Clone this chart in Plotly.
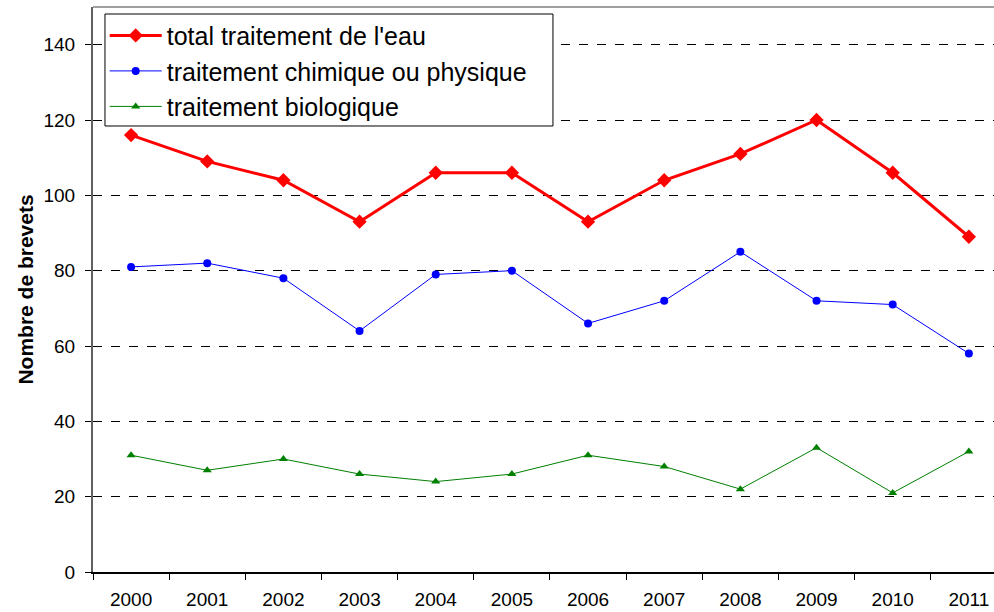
import plotly.graph_objects as go

years = ["2000", "2001", "2002", "2003", "2004", "2005",
         "2006", "2007", "2008", "2009", "2010", "2011"]
total = [116, 109, 104, 93, 106, 106, 93, 104, 111, 120, 106, 89]
chimique = [81, 82, 78, 64, 79, 80, 66, 72, 85, 72, 71, 58]
biologique = [31, 27, 30, 26, 24, 26, 31, 28, 22, 33, 21, 32]

FONT = "Liberation Sans, Arial, sans-serif"

fig = go.Figure()
fig.add_trace(go.Scatter(
    x=years, y=total, name="total traitement de l'eau", mode="lines+markers",
    line=dict(color="#ff0000", width=3),
    marker=dict(symbol="diamond", size=11, color="#ff0000")))
fig.add_trace(go.Scatter(
    x=years, y=chimique, name="traitement chimique ou physique", mode="lines+markers",
    line=dict(color="#0000ff", width=1),
    marker=dict(symbol="circle", size=8, color="#0000ff")))
fig.add_trace(go.Scatter(
    x=years, y=biologique, name="traitement biologique", mode="lines+markers",
    line=dict(color="#008000", width=1),
    marker=dict(symbol="triangle-up", size=8, color="#008000")))

# light grey frame line along the top of the plotting area
fig.add_shape(type="line", xref="paper", yref="paper", x0=0, x1=1, y0=1, y1=1,
              line=dict(color="#a0a0a0", width=2))
# framed white box behind the legend entries
fig.add_shape(type="rect", xref="paper", yref="paper", layer="above",
              x0=0.0133, x1=0.5105, y0=0.7894, y1=0.9876,
              fillcolor="white", line=dict(color="black", width=1))

fig.update_layout(
    width=994, height=612,
    margin=dict(l=93, r=0, t=7, b=40),
    paper_bgcolor="white", plot_bgcolor="white",
    font=dict(family=FONT, color="black"),
    showlegend=True,
    legend=dict(
        x=0.013, y=0.99, xanchor="left", yanchor="top",
        bgcolor="rgba(0,0,0,0)", borderwidth=0,
        font=dict(size=25, family=FONT),
        tracegroupgap=0, itemwidth=52,
    ),
    xaxis=dict(
        type="category", range=[-0.5, 11.33],
        tickson="boundaries", ticks="outside", ticklen=6, tickcolor="black",
        showline=True, linecolor="black", linewidth=2,
        showgrid=False, tickfont=dict(size=19),
        ticklabelstandoff=9,
        fixedrange=True,
    ),
    yaxis=dict(
        range=[0, 150], dtick=20, tick0=0,
        ticks="outside", ticklen=6, tickcolor="black",
        showline=True, linecolor="#606060", linewidth=2,
        showgrid=True, gridcolor="black", griddash="dash", gridwidth=1,
        zeroline=False, tickfont=dict(size=19),
        ticklabelstandoff=6,
        title=dict(text="<b>Nombre de brevets</b>", font=dict(size=21), standoff=4),
    ),
)

fig.write_html("out.html")
